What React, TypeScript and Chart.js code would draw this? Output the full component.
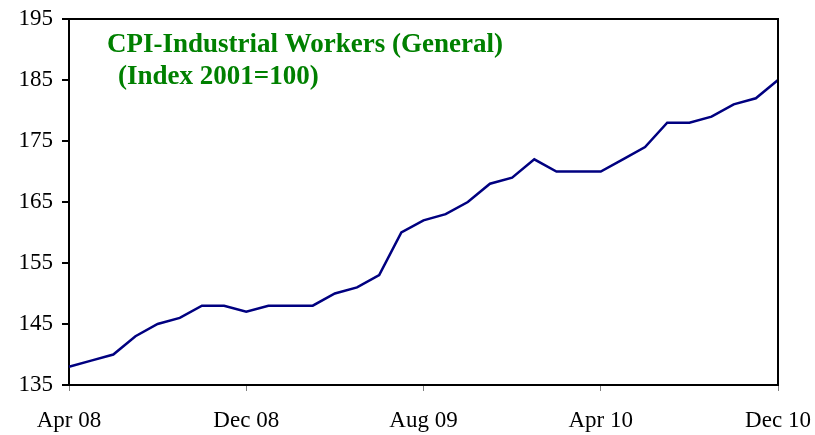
import React, { useEffect, useRef } from "react";
import { Chart, registerables } from "chart.js";

Chart.register(...registerables);

const months: string[] = [
  "Apr 08", "May 08", "Jun 08", "Jul 08", "Aug 08", "Sep 08", "Oct 08", "Nov 08",
  "Dec 08", "Jan 09", "Feb 09", "Mar 09", "Apr 09", "May 09", "Jun 09", "Jul 09",
  "Aug 09", "Sep 09", "Oct 09", "Nov 09", "Dec 09", "Jan 10", "Feb 10", "Mar 10",
  "Apr 10", "May 10", "Jun 10", "Jul 10", "Aug 10", "Sep 10", "Oct 10", "Nov 10",
  "Dec 10",
];

const cpiValues: number[] = [
  138, 139, 140, 143, 145, 146, 148, 148,
  147, 148, 148, 148, 150, 151, 153, 160,
  162, 163, 165, 168, 169, 172, 170, 170,
  170, 172, 174, 178, 178, 179, 181, 182,
  185,
];

const shownTickLabels: string[] = ["Apr 08", "Dec 08", "Aug 09", "Apr 10", "Dec 10"];
const yMin = 135;
const yMax = 195;
const yStep = 10;

const titleLines: string[] = ["CPI-Industrial Workers (General)", "(Index 2001=100)"];

const FONT = "'Liberation Serif', 'Times New Roman', serif";

const framePlugin = {
  id: "frameAndTitle",
  afterDraw(chart: any) {
    const { ctx, chartArea } = chart;
    ctx.save();
    ctx.strokeStyle = "#000000";
    ctx.lineWidth = 2;
    ctx.beginPath();
    ctx.moveTo(chartArea.left, chartArea.top);
    ctx.lineTo(chartArea.right, chartArea.top);
    ctx.lineTo(chartArea.right, chartArea.bottom);
    ctx.stroke();

    ctx.fillStyle = "#008000";
    ctx.font = `bold 27px ${FONT}`;
    ctx.textAlign = "left";
    ctx.textBaseline = "alphabetic";
    ctx.fillText(titleLines[0], chartArea.left + 38, chartArea.top + 33);
    ctx.fillText(titleLines[1], chartArea.left + 49, chartArea.top + 65);
    ctx.restore();
  },
};

export default function App() {
  const ref = useRef<HTMLCanvasElement | null>(null);

  useEffect(() => {
    if (!ref.current) return;
    const chart = new Chart(ref.current, {
      type: "line",
      data: {
        labels: months,
        datasets: [
          {
            data: cpiValues,
            borderColor: "#000080",
            borderWidth: 2.5,
            pointRadius: 0,
            tension: 0,
            fill: false,
          },
        ],
      },
      options: {
        responsive: false,
        animation: false,
        layout: { padding: { top: 19, right: 37, bottom: 0, left: 0 } },
        plugins: {
          legend: { display: false },
          tooltip: { enabled: false },
          title: { display: false },
        },
        scales: {
          x: {
            type: "category",
            offset: false,
            afterFit(scale: any) {
              scale.height = 50;
              scale.paddingLeft = 0;
              scale.paddingRight = 0;
            },
            grid: {
              drawOnChartArea: false,
              drawTicks: true,
              tickLength: 6,
              color: (c: any) =>
                shownTickLabels.includes(months[c.index]) ? "#808080" : "rgba(0,0,0,0)",
              lineWidth: 1,
            },
            border: { display: true, color: "#000000", width: 2 },
            ticks: {
              autoSkip: false,
              maxRotation: 0,
              minRotation: 0,
              padding: 16,
              color: "#000000",
              font: { family: FONT, size: 23 },
              callback: (_v: any, i: number) =>
                shownTickLabels.includes(months[i]) ? months[i] : "",
            },
          },
          y: {
            min: yMin,
            max: yMax,
            afterFit(scale: any) {
              scale.width = 69;
              scale.paddingTop = 0;
              scale.paddingBottom = 0;
            },
            grid: {
              drawOnChartArea: false,
              drawTicks: true,
              tickLength: 7,
              color: "#000000",
              lineWidth: 2,
            },
            border: { display: true, color: "#000000", width: 2 },
            ticks: {
              stepSize: yStep,
              padding: 9,
              color: "#000000",
              font: { family: FONT, size: 23 },
            },
          },
        },
      },
      plugins: [framePlugin],
    });
    return () => chart.destroy();
  }, []);

  return (
    <div style={{ position: "absolute", left: 0, top: 0, width: 815, height: 435, background: "#ffffff" }}>
      <canvas ref={ref} width={815} height={435} style={{ display: "block" }} />
    </div>
  );
}
